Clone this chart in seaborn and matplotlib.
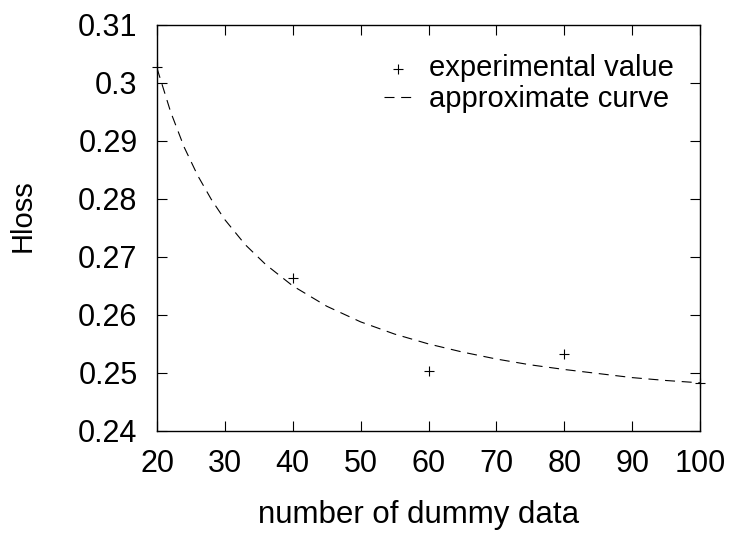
import numpy as np
import pandas as pd
import matplotlib
matplotlib.use('Agg')
import matplotlib.pyplot as plt
from matplotlib.ticker import FuncFormatter
import seaborn as sns

n_dummy = [20, 40, 60, 80, 100]
hloss = [0.3028, 0.2664, 0.2503, 0.2533, 0.2482]

# approximate curve
curve_x = [20, 22, 24, 26, 28, 30, 33, 36, 40, 45, 50, 55, 60, 65, 70, 75, 80, 85, 90, 95, 100]
curve_y = [0.3025, 0.2950, 0.2889, 0.2840, 0.2799, 0.2764, 0.2721, 0.2687, 0.2650, 0.2615,
           0.2588, 0.2567, 0.2550, 0.2536, 0.2524, 0.2514, 0.2506, 0.2499, 0.2492, 0.2487, 0.2483]

x_ticks = [20, 30, 40, 50, 60, 70, 80, 90, 100]
y_ticks = [0.24, 0.25, 0.26, 0.27, 0.28, 0.29, 0.30, 0.31]

sns.set_style('ticks')
plt.rcParams['font.family'] = ['Liberation Sans', 'DejaVu Sans']

fig = plt.figure(figsize=(7.31, 5.35), dpi=100)
ax = fig.add_axes([0.2148, 0.1944, 0.7428, 0.7594])

pts = pd.DataFrame({'n': n_dummy, 'h': hloss})
crv = pd.DataFrame({'n': curve_x, 'h': curve_y})

sns.scatterplot(data=pts, x='n', y='h', marker='+', s=60, color='black',
                linewidth=0.8, clip_on=False, zorder=3, label='experimental value', ax=ax)
sns.lineplot(data=crv, x='n', y='h', color='black', linewidth=0.8,
             linestyle=(0, (9, 6)), label='approximate curve', ax=ax)

ax.set_xlim(20, 100)
ax.set_ylim(0.24, 0.31)
ax.set_xticks(x_ticks)
ax.set_yticks(y_ticks)
ax.yaxis.set_major_formatter(FuncFormatter(lambda v, p: '%g' % round(v, 4)))

ax.tick_params(direction='in', top=True, right=True, length=7, width=0.8,
               labelsize=22, colors='black')
ax.tick_params(axis='x', pad=13)
ax.tick_params(axis='y', pad=14)
for s in ax.spines.values():
    s.set_color('black')
    s.set_linewidth(1.0)

ax.set_xlabel('number of dummy data', fontsize=22.5, color='black')
ax.xaxis.set_label_coords(0.482, -0.17)
ax.set_ylabel('Hloss', fontsize=21, color='black')
ax.yaxis.set_label_coords(-0.221, 0.53)

leg = ax.legend(loc='upper right', frameon=False, fontsize=21, handlelength=1.0,
                handletextpad=0.55, labelspacing=0.1, bbox_to_anchor=(1.0, 0.992))
for t in leg.get_texts():
    t.set_color('black')

fig.savefig('out.png', dpi=100)
